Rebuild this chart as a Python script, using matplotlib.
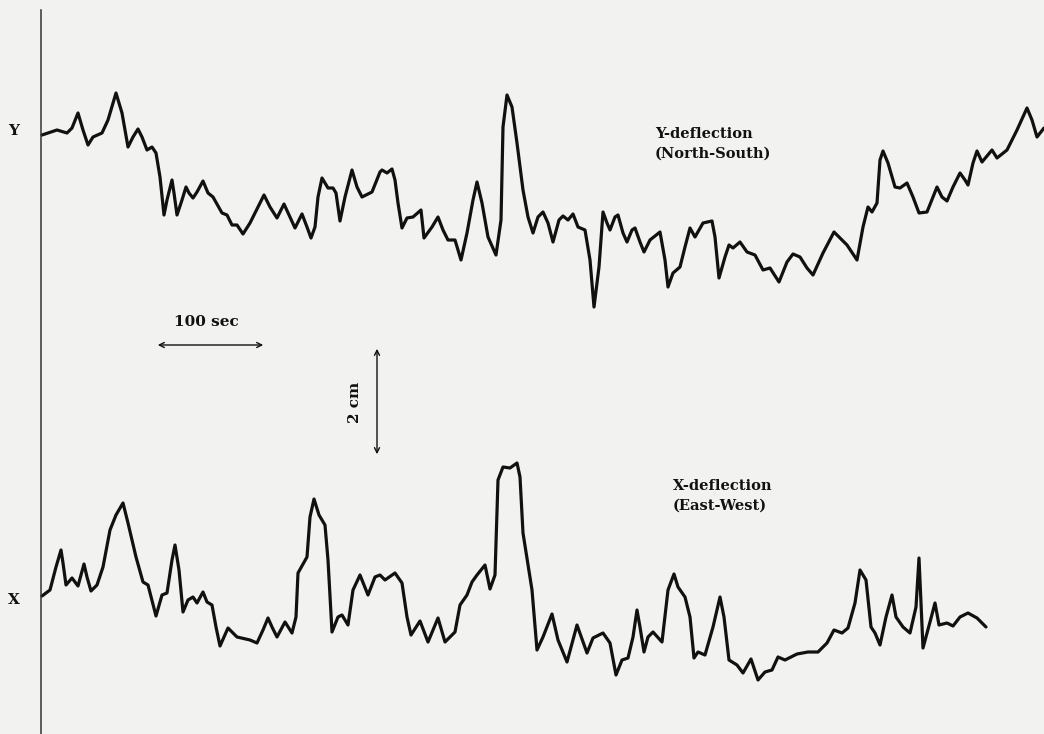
import matplotlib
matplotlib.use("Agg")
import matplotlib.pyplot as plt

# traced positions of the two pen recordings (page units, y grows downward)
ns_t = [42, 57, 67, 72, 78, 83, 88, 93, 102, 108, 116, 122, 128, 133, 138, 142, 147, 152, 156,
        160, 164, 167, 172, 174, 177, 182, 186, 189, 193, 197, 203, 208, 213, 222, 227, 232,
        237, 243, 250, 258, 264, 270, 277, 284, 290, 295, 302, 307, 311, 315, 318, 322, 328,
        333, 336, 340, 345, 352, 357, 362, 372, 380, 382, 387, 392, 395, 398, 402, 407, 413,
        421, 424, 432, 438, 443, 448, 455, 461, 467, 473, 477, 482, 488, 496, 501, 503, 507,
        512, 517, 523, 528, 533, 538, 543, 548, 553, 559, 563, 568, 573, 578, 585, 590, 594,
        599, 603, 607, 610, 615, 618, 623, 627, 632, 635, 640, 644, 650, 660, 665, 668, 673,
        680, 685, 690, 695, 703, 712, 715, 719, 725, 729, 733, 740, 747, 755, 763, 770, 779,
        787, 793, 800, 807, 813, 823, 834, 840, 847, 857, 863, 868, 872, 877, 880, 883, 888,
        895, 900, 907, 913, 919, 927, 937, 942, 947, 953, 960, 965, 968, 973, 977, 982, 992,
        997, 1007, 1017, 1027, 1032, 1037, 1044]
ns_d = [135, 130, 133, 128, 113, 130, 145, 137, 133, 120, 93, 113, 147, 137, 129, 137, 150, 147,
        153, 177, 215, 200, 180, 193, 215, 200, 187, 193, 198, 192, 181, 193, 197, 213, 215,
        225, 225, 234, 223, 207, 195, 207, 218, 204, 217, 228, 214, 227, 238, 227, 197, 178,
        188, 188, 193, 221, 197, 170, 187, 197, 192, 172, 170, 173, 169, 180, 203, 228, 218,
        217, 210, 238, 227, 217, 230, 240, 240, 260, 233, 200, 182, 203, 237, 255, 220, 127,
        95, 107, 143, 190, 217, 233, 217, 212, 223, 242, 220, 216, 220, 214, 227, 230, 260,
        307, 267, 212, 223, 230, 217, 215, 233, 242, 230, 228, 242, 252, 240, 232, 260, 287,
        273, 267, 247, 228, 237, 223, 221, 237, 278, 257, 245, 248, 242, 252, 255, 270, 268,
        282, 262, 254, 257, 268, 275, 253, 232, 238, 245, 260, 227, 207, 212, 203, 160, 151,
        163, 187, 188, 183, 197, 213, 212, 187, 197, 201, 187, 173, 180, 185, 163, 151, 162,
        150, 158, 150, 130, 108, 120, 137, 128]

ew_t = [42, 50, 56, 61, 63, 66, 72, 78, 84, 87, 91, 97, 103, 110, 116, 123, 128, 136, 143, 148,
        156, 162, 167, 172, 175, 179, 183, 188, 193, 197, 203, 207, 212, 216, 220, 228, 237,
        250, 257, 263, 268, 272, 277, 285, 292, 296, 298, 307, 310, 314, 319, 325, 328, 332,
        338, 342, 348, 353, 360, 368, 375, 380, 385, 395, 402, 407, 411, 420, 428, 438, 445,
        455, 460, 467, 472, 477, 485, 490, 495, 498, 503, 510, 517, 520, 523, 532, 537, 543,
        552, 558, 567, 577, 587, 593, 603, 610, 616, 622, 628, 633, 637, 640, 644, 648, 653,
        662, 668, 674, 678, 685, 690, 694, 698, 705, 713, 720, 724, 729, 737, 743, 751, 758,
        765, 772, 778, 785, 797, 808, 818, 827, 834, 842, 848, 855, 860, 866, 871, 875, 880,
        886, 892, 896, 903, 910, 916, 919, 923, 930, 935, 939, 947, 953, 960, 968, 977, 986]
ew_d = [596, 590, 567, 550, 563, 585, 578, 586, 564, 577, 591, 585, 567, 530, 515, 503, 523, 557,
        582, 585, 616, 595, 593, 560, 545, 570, 612, 600, 597, 603, 592, 602, 605, 627, 646,
        628, 637, 640, 643, 630, 618, 627, 637, 622, 633, 617, 573, 557, 517, 499, 515, 525,
        560, 632, 617, 615, 625, 590, 575, 595, 577, 575, 580, 573, 583, 617, 635, 621, 642,
        618, 642, 632, 605, 595, 582, 575, 565, 589, 575, 480, 467, 468, 463, 477, 533, 590,
        650, 637, 614, 640, 662, 625, 653, 638, 633, 643, 675, 660, 658, 637, 610, 627, 652,
        637, 632, 642, 590, 574, 587, 597, 617, 658, 652, 655, 627, 597, 617, 660, 665, 673,
        659, 680, 672, 670, 657, 660, 654, 652, 652, 643, 630, 633, 628, 603, 570, 580, 627,
        633, 645, 617, 595, 617, 627, 633, 607, 558, 648, 622, 603, 625, 623, 626, 617, 613,
        618, 627]

trace_names = ["Y-deflection\n(North-South)", "X-deflection\n(East-West)"]
side_labels = ["Y", "X"]
time_bar_label = "100 sec"
amp_bar_label = "2 cm"

W, H = 1044, 734
fig = plt.figure(figsize=(W / 100, H / 100), dpi=100)
fig.patch.set_facecolor("#f2f2f0")
ax = fig.add_axes([0, 0, 1, 1])
ax.set_facecolor("#f2f2f0")
ax.set_xlim(0, W)
ax.set_ylim(H, 0)
ax.axis("off")

ink = "#111111"
serif = ["DejaVu Serif"]

ax.plot(ns_t, ns_d, color=ink, lw=2.3, solid_joinstyle="round", solid_capstyle="round")
ax.plot(ew_t, ew_d, color=ink, lw=2.3, solid_joinstyle="round", solid_capstyle="round")

# left reference line
ax.plot([41, 41], [10, H], color="#333333", lw=1.1)

ax.text(14, ns_d[0] - 4, side_labels[0], ha="center", va="center", fontsize=11,
        fontweight="bold", family=serif, color=ink)
ax.text(14, ew_d[0] + 4, side_labels[1], ha="center", va="center", fontsize=11,
        fontweight="bold", family=serif, color=ink)

ax.text(655, 144, trace_names[0], ha="left", va="center", fontsize=10.5,
        fontweight="bold", family=serif, color=ink, linespacing=1.5)
ax.text(673, 496, trace_names[1], ha="left", va="center", fontsize=10.5,
        fontweight="bold", family=serif, color=ink, linespacing=1.5)

# scale bars
ax.annotate("", xy=(155, 345), xytext=(266, 345),
            arrowprops=dict(arrowstyle="<->", color=ink, lw=1.0, mutation_scale=9))
ax.text(206, 322, time_bar_label, ha="center", va="center", fontsize=11,
        fontweight="bold", family=serif, color=ink)
ax.annotate("", xy=(377, 346), xytext=(377, 457),
            arrowprops=dict(arrowstyle="<->", color=ink, lw=1.0, mutation_scale=9))
ax.text(355, 402, amp_bar_label, ha="center", va="center", fontsize=11, rotation=90,
        fontweight="bold", family=serif, color=ink)

fig.savefig("out.png", dpi=100, facecolor=fig.get_facecolor())
